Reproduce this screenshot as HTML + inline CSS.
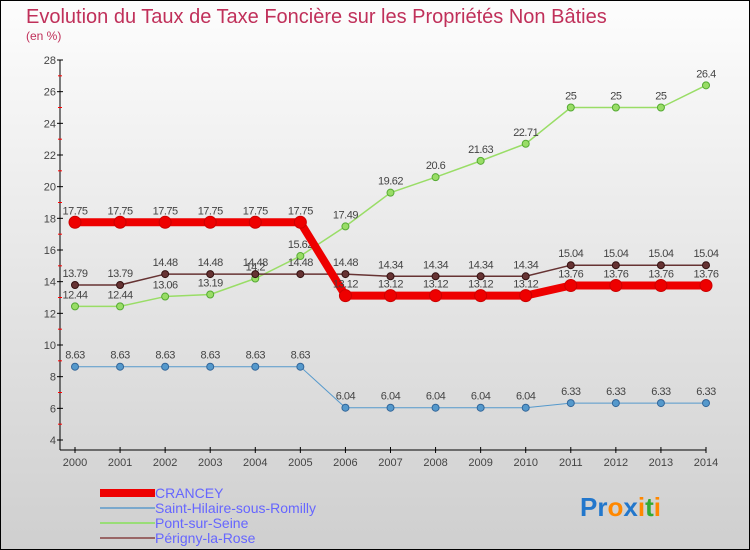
<!DOCTYPE html>
<html><head><meta charset="utf-8"><style>
body{margin:0}
svg{display:block;font-family:"Liberation Sans",sans-serif}
</style></head><body>
<svg width="750" height="550" id="c">
<defs><linearGradient id="bg" x1="0" y1="0" x2="0" y2="1"><stop offset="0" stop-color="#fdfdfd"/><stop offset="1" stop-color="#cfcfcf"/></linearGradient></defs>
<rect x="0.5" y="0.5" width="749" height="549" fill="url(#bg)" stroke="#000"/>
<text x="26" y="23" font-size="20" fill="#c0305a">Evolution du Taux de Taxe Foncière sur les Propriétés Non Bâties</text>
<text x="26" y="40" font-size="12" fill="#c0305a">(en %)</text>
<g id="axes"></g><g id="series"></g>
<g>
<rect x="100" y="489" width="55" height="8" fill="#e00"/>
<text x="155" y="498" font-size="14" fill="#6666ff">CRANCEY</text>
<line x1="100" y1="508" x2="155" y2="508" stroke="#7aa8cc" stroke-width="2"/>
<text x="155" y="513" font-size="14" fill="#6666ff">Saint-Hilaire-sous-Romilly</text>
<line x1="100" y1="523" x2="155" y2="523" stroke="#99dd77" stroke-width="2"/>
<text x="155" y="528" font-size="14" fill="#6666ff">Pont-sur-Seine</text>
<line x1="100" y1="538" x2="155" y2="538" stroke="#996666" stroke-width="2"/>
<text x="155" y="543" font-size="14" fill="#6666ff">Périgny-la-Rose</text>
</g>
<text x="580" y="516" font-size="26" font-weight="bold"><tspan fill="#2277cc">Pr</tspan><tspan fill="#ff8800">o</tspan><tspan fill="#2277cc">x</tspan><tspan fill="#ff8800">i</tspan><tspan fill="#33aa33">t</tspan><tspan fill="#ff8800">i</tspan></text>
</svg>
<script>
const years=[2000,2001,2002,2003,2004,2005,2006,2007,2008,2009,2010,2011,2012,2013,2014];
const yTicks=[4,6,8,10,12,14,16,18,20,22,24,26,28];
const crancey=[17.75,17.75,17.75,17.75,17.75,17.75,13.12,13.12,13.12,13.12,13.12,13.76,13.76,13.76,13.76];
const saintHilaire=[8.63,8.63,8.63,8.63,8.63,8.63,6.04,6.04,6.04,6.04,6.04,6.33,6.33,6.33,6.33];
const pont=[12.44,12.44,13.06,13.19,14.2,15.62,17.49,19.62,20.6,21.63,22.71,25,25,25,26.4];
const perigny=[13.79,13.79,14.48,14.48,14.48,14.48,14.48,14.34,14.34,14.34,14.34,15.04,15.04,15.04,15.04];
const NS="http://www.w3.org/2000/svg";
const X=i=>75+i*(706-75)/14;
const Y=v=>440-(v-4)*380/24;
function mk(t,a,p){const e=document.createElementNS(NS,t);for(const k in a)e.setAttribute(k,a[k]);p.appendChild(e);return e;}
const ax=document.getElementById('axes');
let l=mk('line',{x1:60,y1:60,x2:60,y2:450,stroke:'#000'},ax);


l=mk('line',{x1:60,y1:450,x2:706,y2:450,stroke:'#000'},ax);


yTicks.forEach(v=>{
 const t=mk('text',{x:56,y:Y(v)+4,'font-size':11,fill:'#444','text-anchor':'end'},ax);t.textContent=v;
 
 
 mk('line',{x1:57,y1:Y(v),x2:63,y2:Y(v),stroke:'#000'},ax);
 if(v<28)mk('line',{x1:58,y1:Y(v+1),x2:62,y2:Y(v+1),stroke:'#f00'},ax);
});
years.forEach((y,i)=>{
 mk('line',{x1:X(i),y1:447,x2:X(i),y2:453,stroke:'#000'},ax);
 const t=mk('text',{x:X(i),y:466,'font-size':11,fill:'#444','text-anchor':'middle'},ax);t.textContent=y;
 
 
});
const sg=document.getElementById('series');
function draw(vals,name,col,dark,w,r){
 const g=mk('g',{},sg);
 
 
 const p=mk('polyline',{points:vals.map((v,i)=>X(i)+','+Y(v)).join(' '),fill:'none',stroke:col,'stroke-width':w,'stroke-linejoin':'round'},g);
 
 
 vals.forEach((v,i)=>{
  const c=mk('circle',{cx:X(i),cy:Y(v),r:r,fill:col,stroke:dark,'stroke-width':1},g);
  
  
  const t=mk('text',{x:X(i),y:Y(v)-8,'font-size':11,fill:'#444','text-anchor':'middle','letter-spacing':'-0.5'},g);
  t.textContent=v;
  
  
 });
}
draw(saintHilaire,'saint-hilaire','#5599cc','#336699',1,3.5);
draw(pont,'pont-sur-seine','#99dd66','#55aa33',1.5,3.5);
draw(perigny,'perigny','#663333','#331111',1.5,3.5);
draw(crancey,'crancey','#ee0000','#cc0000',8,6);
</script>
</body></html>
